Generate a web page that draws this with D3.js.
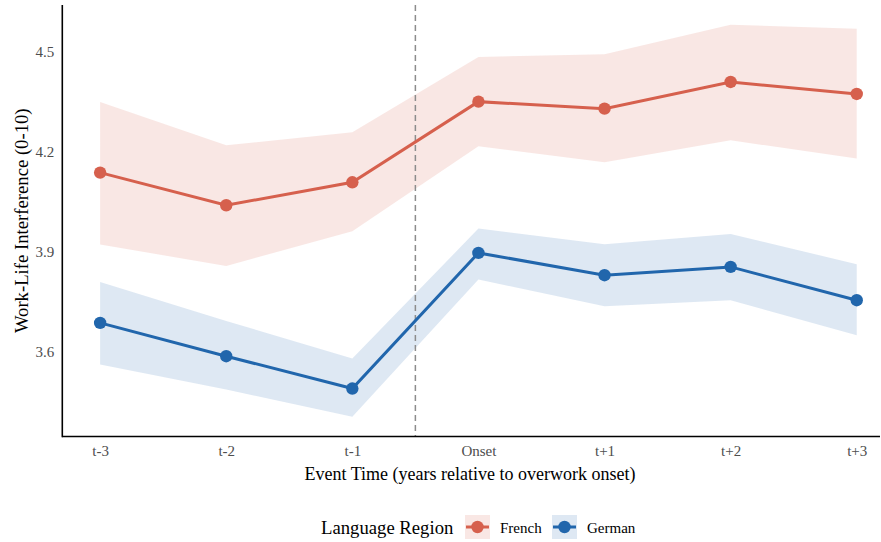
<!DOCTYPE html>
<html>
<head>
<meta charset="utf-8">
<script src="https://cdn.jsdelivr.net/npm/d3@7"></script>
<style>
  body { margin: 0; background: #fff; }
  svg text { font-family: "Liberation Serif", "DejaVu Serif", serif; }
</style>
</head>
<body>
<svg id="chart" width="881" height="542"></svg>
<script>
const periods = ['t-3', 't-2', 't-1', 'Onset', 't+1', 't+2', 't+3'];
const eventTime = [-3, -2, -1, 0, 1, 2, 3];

const frenchMean  = [4.137, 4.039, 4.108, 4.350, 4.329, 4.409, 4.373];
const frenchUpper = [4.349, 4.219, 4.258, 4.484, 4.492, 4.581, 4.569];
const frenchLower = [3.921, 3.857, 3.961, 4.216, 4.168, 4.234, 4.179];

const germanMean  = [3.686, 3.586, 3.489, 3.896, 3.829, 3.854, 3.754];
const germanUpper = [3.809, 3.692, 3.579, 3.969, 3.922, 3.953, 3.862];
const germanLower = [3.561, 3.486, 3.404, 3.816, 3.736, 3.754, 3.649];

const yTicks = [3.6, 3.9, 4.2, 4.5];

const regions = [
  { name: 'French', color: '#D6604D', mean: frenchMean, lower: frenchLower, upper: frenchUpper },
  { name: 'German', color: '#2166AC', mean: germanMean, lower: germanLower, upper: germanUpper }
];

const svg = d3.select('#chart');
const mLeft = 62.3, mTop = 5, mBottom = 436.5, mRight = 880;

const x = d3.scaleLinear().domain([-3.3, 3.3]).range([mLeft, mLeft + 6.6 * 126.1]);
const y = d3.scaleLinear().domain([3.345, 4.640]).range([mBottom, mTop]);

const plot = svg.append('g');

// ribbons
regions.forEach(r => {
  const rows = eventTime.map((t, i) => ({ t, lo: r.lower[i], hi: r.upper[i] }));
  plot.append('path')
    .datum(rows)
    .attr('fill', r.color)
    .attr('fill-opacity', 0.15)
    .attr('d', d3.area().x(d => x(d.t)).y0(d => y(d.lo)).y1(d => y(d.hi)));
});

// onset marker
plot.append('line')
  .attr('x1', x(-0.5)).attr('x2', x(-0.5))
  .attr('y1', mTop).attr('y2', mBottom)
  .attr('stroke', '#8c8c8c')
  .attr('stroke-width', 1.5)
  .attr('stroke-dasharray', '6,4');

// lines + points
regions.forEach(r => {
  const rows = eventTime.map((t, i) => ({ t, v: r.mean[i] }));
  plot.append('path')
    .datum(rows)
    .attr('fill', 'none')
    .attr('stroke', r.color)
    .attr('stroke-width', 3)
    .attr('d', d3.line().x(d => x(d.t)).y(d => y(d.v)));
  plot.selectAll(null)
    .data(rows)
    .join('circle')
    .attr('cx', d => x(d.t))
    .attr('cy', d => y(d.v))
    .attr('r', 6.2)
    .attr('fill', r.color);
});

// axes
const xAxis = svg.append('g')
  .attr('transform', `translate(0,${mBottom})`)
  .call(d3.axisBottom(x).tickValues(eventTime).tickFormat((d, i) => periods[i]).tickSize(0).tickPadding(9));
const yAxis = svg.append('g')
  .attr('transform', `translate(${mLeft},0)`)
  .call(d3.axisLeft(y).tickValues(yTicks).tickFormat(d3.format('.1f')).tickSize(0).tickPadding(8));

[xAxis, yAxis].forEach(a => {
  a.select('.domain').remove();
  a.attr('font-size', null);
  a.selectAll('text').attr('fill', '#4d4d4d').style('font-size', '15px');
});

svg.append('line')
  .attr('x1', mLeft).attr('x2', mLeft).attr('y1', mTop).attr('y2', mBottom + 0.8)
  .attr('stroke', '#000').attr('stroke-width', 1.6);
svg.append('line')
  .attr('x1', mLeft).attr('x2', mRight).attr('y1', mBottom).attr('y2', mBottom)
  .attr('stroke', '#000').attr('stroke-width', 1.6);

// titles
svg.append('text')
  .attr('x', 470).attr('y', 480)
  .attr('text-anchor', 'middle')
  .style('font-size', '18px')
  .text('Event Time (years relative to overwork onset)');

svg.append('text')
  .attr('transform', `translate(27.5,${(mTop + mBottom) / 2}) rotate(-90)`)
  .attr('text-anchor', 'middle')
  .style('font-size', '18.7px')
  .text('Work-Life Interference (0-10)');

// legend
const legend = svg.append('g');
legend.append('text')
  .attr('x', 321).attr('y', 534)
  .style('font-size', '18.7px')
  .text('Language Region');

const keyX = [465, 552];
regions.forEach((r, i) => {
  const g = legend.append('g').attr('transform', `translate(${keyX[i]},515)`);
  g.append('rect').attr('width', 25).attr('height', 24)
    .attr('fill', r.color).attr('fill-opacity', 0.15);
  g.append('line').attr('x1', 1).attr('x2', 24).attr('y1', 12).attr('y2', 12)
    .attr('stroke', r.color).attr('stroke-width', 3);
  g.append('circle').attr('cx', 12.5).attr('cy', 12).attr('r', 6.2).attr('fill', r.color);
  g.append('text').attr('x', 35).attr('y', 17.5)
    .style('font-size', '15px')
    .text(r.name);
});
</script>
</body>
</html>
